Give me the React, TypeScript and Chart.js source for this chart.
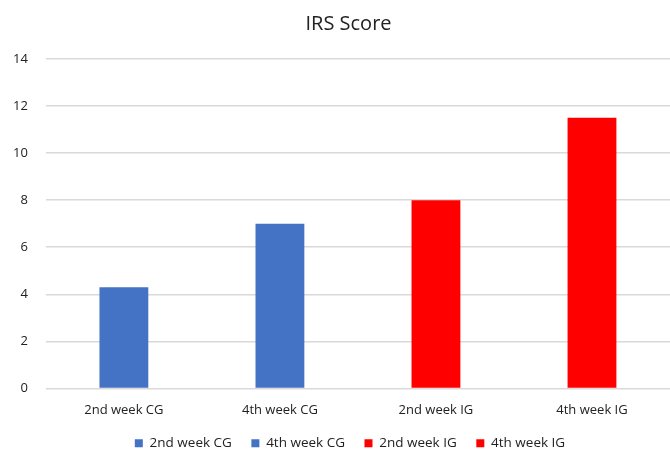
import React, { useEffect, useRef } from "react";
import { Chart, registerables } from "chart.js";

Chart.register(...registerables);

const categories = ["2nd week CG", "4th week CG", "2nd week IG", "4th week IG"];
const scores = [4.3, 7, 8, 11.5];
const colors = ["#4472C4", "#4472C4", "#FF0000", "#FF0000"];
const yTicks = [0, 2, 4, 6, 8, 10, 12, 14];
const titleText = "IRS Score";

const FONT = "'Open Sans', 'Noto Sans', sans-serif";

const titlePlugin = {
  id: "offsetTitle",
  afterLayout(chart: any) {
    if (chart.legend) {
      chart.legend.left += 17.5;
      chart.legend.right += 17.5;
    }
  },
  afterDraw(chart: any) {
    const c = chart.ctx;
    c.save();
    c.fillStyle = "#222";
    c.font = `normal 20px ${FONT}`;
    c.textAlign = "center";
    c.textBaseline = "alphabetic";
    c.fillText(titleText, 348.5, 30);
    c.restore();
  },
};

export default function App() {
  const ref = useRef<HTMLCanvasElement | null>(null);

  useEffect(() => {
    document.body.style.margin = "0";
    const ctx = ref.current;
    if (!ctx) return;
    const datasets = categories.map((label, i) => ({
      label,
      data: categories.map((_, j) => (j === i ? scores[i] : null)),
      backgroundColor: colors[i],
      borderWidth: 0,
      categoryPercentage: 1,
      barPercentage: 0.313,
    }));
    const chart = new Chart(ctx, {
      type: "bar",
      data: { labels: categories, datasets },
      plugins: [titlePlugin],
      options: {
        animation: false,
        responsive: false,
        maintainAspectRatio: false,
        layout: { padding: { left: -5, right: 0, top: 59, bottom: -11 } },
        plugins: {
          title: { display: false },
          legend: {
            position: "bottom",
            labels: {
              color: "#222",
              font: { family: FONT, size: 13.5 },
              boxWidth: 8,
              boxHeight: 8,
              padding: 19.5,
            },
          },
          tooltip: { enabled: false },
        },
        scales: {
          x: {
            stacked: true,
            grid: { display: false },
            border: { display: false },
            ticks: { color: "#222", font: { family: FONT, size: 13 }, padding: 6 },
            afterFit: (axis: any) => {
              axis.height -= 7;
            },
          },
          y: {
            stacked: true,
            min: 0,
            max: 14,
            afterBuildTicks: (axis: any) => {
              axis.ticks = yTicks.map((v) => ({ value: v }));
            },
            grid: { color: "#d9d9d9", lineWidth: 1.5, drawTicks: false },
            border: { display: false },
            ticks: { color: "#222", font: { family: FONT, size: 13 }, padding: 18 },
          },
        },
      },
    });
    return () => chart.destroy();
  }, []);

  return (
    <div style={{ position: "absolute", left: 0, top: 0, width: 670, height: 449 }}>
      <canvas ref={ref} width={670} height={449} />
    </div>
  );
}
